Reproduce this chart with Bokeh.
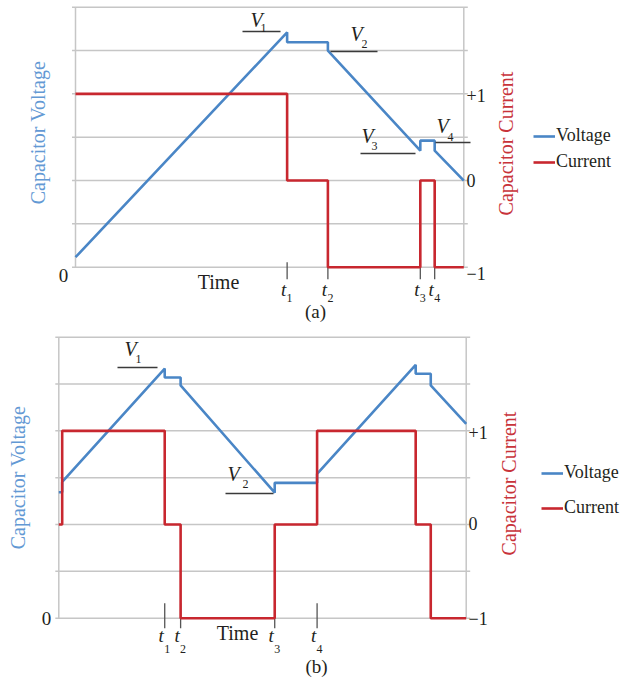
import math
from bokeh.plotting import figure
from bokeh.models import Range1d, Label, Legend, LegendItem
from bokeh.layouts import column
from bokeh.embed import file_html
from bokeh.resources import INLINE

# ---------------- data: panel (a) ----------------
a_time = [0.0, 54.5, 54.5, 65.0, 65.0, 88.8, 88.8, 92.5, 92.5, 100.0]
a_voltage = [0.23, 5.42, 5.19, 5.19, 5.0, 2.69, 2.92, 2.92, 2.69, 2.0]
a_current = [1, 1, 0, 0, -1, -1, 0, 0, -1, -1]
a_events = [54.5, 65.0, 88.8, 92.5]
a_event_names = ["1", "2", "3", "4"]

# ---------------- data: panel (b) ----------------
b_time = [0.0, 0.83, 0.83, 26.0, 26.0, 29.9, 29.9, 53.0, 53.0, 63.4, 63.4,
          87.6, 87.6, 91.3, 91.3, 100.0]
b_voltage = [2.69, 2.69, 2.91, 5.33, 5.14, 5.14, 4.97, 2.68, 2.89, 2.89, 3.08,
             5.41, 5.22, 5.22, 4.97, 4.15]
b_current = [0, 0, 1, 1, 0, 0, -1, -1, 0, 0, 1, 1, 0, 0, -1, -1]
b_events = [26.0, 29.9, 53.0, 63.4]
b_event_names = ["1", "2", "3", "4"]

current_ticks = [-1, 0, 1]
current_tick_labels = ["\u22121", "0", "+1"]
voltage_grid = [0, 1, 2, 3, 4, 5, 6]

FONT = "Liberation Serif"
BLUE = "#4a86c6"
RED = "#c8272f"
BLUE_TXT = "#6399d4"
RED_TXT = "#c8333a"
GRID = "#c6c6c6"
INK = "#231f20"
W = 621


def make_panel(time, volt, curr, events, names, top, H, FL, FR, FT, FB,
               tick_in, tick_out, legend_x, legend_bottom, legend_spacing,
               texts, vmarks, t_y, sub_y, cur_lab_x, cur_lab_dy):
    # all pixel positions given in page coordinates; convert to panel-local
    FT -= top
    FB -= top
    sx = (FR - FL) / 100.0
    sy = (FB - FT) / 6.0
    sc = (FB - FT) / 3.0
    p = figure(width=W, height=H,
               x_range=Range1d(-FL / sx, (W - FL) / sx),
               y_range=Range1d((FB - H) / sy, FB / sy),
               output_backend="svg", toolbar_location=None,
               x_axis_type=None, y_axis_type=None,
               min_border_left=0, min_border_right=0,
               min_border_top=0, min_border_bottom=0)
    p.extra_y_ranges = {"cur": Range1d(-1 + (FB - H) / sc, -1 + FB / sc)}
    p.outline_line_color = None
    p.background_fill_color = "white"
    p.border_fill_color = "white"

    def X(px):
        return (px - FL) / sx

    def Y(py):
        return (FB - (py - top)) / sy

    # horizontal grid lines with small outward ticks on both sides
    p.segment(x0=[X(FL - 3.5)] * len(voltage_grid), y0=voltage_grid,
              x1=[X(FR + 4)] * len(voltage_grid), y1=voltage_grid,
              line_color=GRID, line_width=1.5)
    # frame sides
    p.segment(x0=[0, 100], y0=[0, 0], x1=[0, 100], y1=[6, 6],
              line_color=GRID, line_width=1.5)
    # event tick marks
    p.segment(x0=events, y0=[Y(FB + top + tick_out)] * len(events),
              x1=events, y1=[Y(FB + top - tick_in)] * len(events),
              line_color="#555555", line_width=1.3)

    rv = p.line(time, volt, line_color=BLUE, line_width=2.6)
    rc = p.line(time, curr, y_range_name="cur", line_color=RED, line_width=2.6)

    # current axis tick labels (small per-label pixel nudges as in the original)
    lab_y = [t - d / sc for t, d in zip(current_ticks, cur_lab_dy)]
    p.text(x=[X(cur_lab_x)] * len(current_ticks), y=lab_y,
           text=current_tick_labels, y_range_name="cur",
           text_font={"value": FONT}, text_font_size="18px",
           text_color=INK, text_align="left", text_baseline="middle")

    legend = Legend(items=[LegendItem(label="Voltage", renderers=[rv]),
                           LegendItem(label="Current", renderers=[rc])],
                    location=(legend_x, H - (legend_bottom - top)),
                    spacing=legend_spacing,
                    padding=0, margin=0, glyph_width=22, glyph_height=20,
                    label_height=20, label_standoff=1,
                    label_text_font=FONT, label_text_font_size="18px",
                    label_text_color=INK, border_line_color=None,
                    background_fill_alpha=0)
    p.add_layout(legend)

    def lab(px, py, text, size, color=INK, style="normal", angle=0.0):
        p.add_layout(Label(x=X(px), y=Y(py), text=text, text_font=FONT,
                           text_font_size=size, text_color=color,
                           text_font_style=style, angle=angle,
                           text_align="center", text_baseline="middle"))

    for (px, py, text, size, color, angle) in texts:
        lab(px, py, text, size, color, "normal", angle)

    # event labels t1..t4
    for e, n in zip(events, names):
        epx = FL + e * sx
        lab(epx - 3.5, t_y, "t", "19px", INK, "italic")
        lab(epx + 2.5, sub_y, n, "12px", INK)

    # V labels with underline
    for (vx, vy, ssx, ssy, n, x0, x1, ly) in vmarks:
        lab(vx, vy, "V", "20px", INK, "italic")
        lab(ssx, ssy, n, "12px", INK)
        p.segment(x0=[X(x0)], y0=[Y(ly)], x1=[X(x1)], y1=[Y(ly)],
                  line_color="#3a3a3a", line_width=1.5)
    return p


# positions of annotation texts, in page pixels
texts_a = [
    (37.5, 132, "Capacitor Voltage", "20px", BLUE_TXT, math.pi / 2),
    (505, 143, "Capacitor Current", "20px", RED_TXT, math.pi / 2),
    (63, 275, "0", "19px", INK, 0.0),
    (218, 281, "Time", "20px", INK, 0.0),
    (315, 311, "(a)", "19px", INK, 0.0),
]
vmarks_a = [
    (256, 19, 263, 27, "1", 242, 280, 31),
    (356, 33, 364, 43, "2", 330, 377, 51),
    (367, 135, 374, 145, "3", 360, 415, 153),
    (442, 125, 450, 136, "4", 435, 470, 142),
]
texts_b = [
    (17, 477, "Capacitor Voltage", "20px", BLUE_TXT, math.pi / 2),
    (508, 483, "Capacitor Current", "20px", RED_TXT, math.pi / 2),
    (46, 618, "0", "19px", INK, 0.0),
    (237, 632, "Time", "20px", INK, 0.0),
    (316, 666, "(b)", "19px", INK, 0.0),
]
vmarks_b = [
    (130, 348, 138, 358, "1", 117, 157, 367),
    (233, 473, 245, 483, "2", 225, 273, 493),
]

TOP_B = 326
pa = make_panel(a_time, a_voltage, a_current, a_events, a_event_names,
                top=0, H=TOP_B, FL=75, FR=463.3, FT=6.7, FB=266.7,
                tick_in=5, tick_out=12, legend_x=533, legend_bottom=172,
                legend_spacing=5, texts=texts_a, vmarks=vmarks_a,
                t_y=289, sub_y=297, cur_lab_x=466, cur_lab_dy=[6, 0, 1.5])
pb = make_panel(b_time, b_voltage, b_current, b_events, b_event_names,
                top=TOP_B, H=680 - TOP_B, FL=58.3, FR=465.7, FT=336.7,
                FB=617.7, tick_in=15, tick_out=10, legend_x=541,
                legend_bottom=518, legend_spacing=14, texts=texts_b,
                vmarks=vmarks_b, t_y=635, sub_y=648, cur_lab_x=468,
                cur_lab_dy=[0, -1, 1.5])

layout = column(pa, pb)
open("out.html", "w").write(file_html(layout, INLINE))
